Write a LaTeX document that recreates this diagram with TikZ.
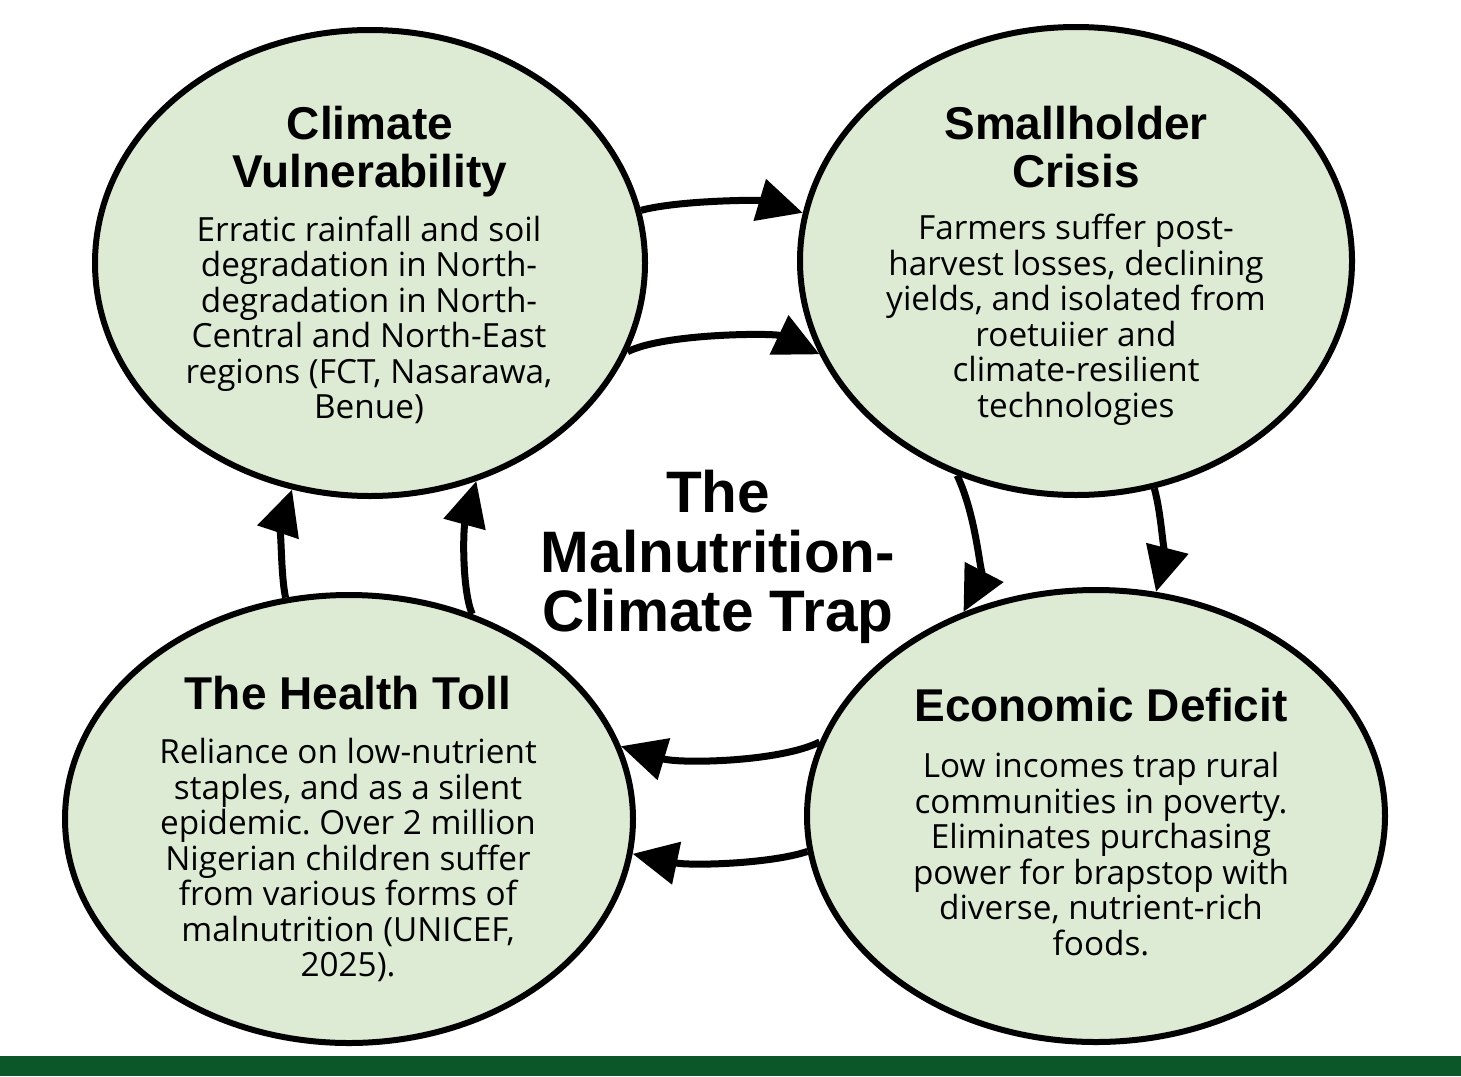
\documentclass[tikz,border=0pt]{standalone}
\usepackage{fontspec}
\setmainfont{Open Sans}
\newfontfamily\headfont{Liberation Sans}
\usetikzlibrary{arrows.meta,shapes.geometric}
\definecolor{bubblefill}{HTML}{DDEBD5}
\definecolor{bargreen}{HTML}{0B572A}
\frenchspacing
\begin{document}
\begin{tikzpicture}[x=1pt,y=-1pt,
  bubble/.style={ellipse, draw=black, line width=6pt, fill=bubblefill, inner sep=0pt},
  headtxt/.style={align=center, inner sep=0pt, font={\headfont\bfseries\fontsize{46}{48}\selectfont}},
  bodytxt/.style={align=center, inner sep=0pt, font={\fontsize{33.3}{35.5}\selectfont}},
  centertxt/.style={align=center, inner sep=0pt, font={\headfont\bfseries\fontsize{58.5}{59.5}\selectfont}},
  flow/.style={line width=7pt, -{Triangle[length=45pt,width=42pt]}}]
\useasboundingbox (0,0) rectangle (1461,1076);
\fill[white] (0,0) rectangle (1461,1076);
\fill[bargreen] (0,1056) rectangle (1461,1076);

\node[bubble, minimum width=550pt, minimum height=466pt] (cv) at (370,263) {};
\node[bubble, minimum width=552pt, minimum height=468pt] (sc) at (1076,261) {};
\node[bubble, minimum width=568pt, minimum height=448pt] (ht) at (349,819) {};
\node[bubble, minimum width=578pt, minimum height=452pt] (ed) at (1096,816) {};

\node[headtxt] (cvh) at (370,152) {Climate\\Vulnerability};
\node[bodytxt] (cvb) at (369,320) {Erratic rainfall and soil\\degradation in North-\\degradation in North-\\Central and North-East\\regions (FCT, Nasarawa,\\Benue)};

\node[headtxt] (sch) at (1076,147) {Smallholder\\Crisis};
\node[bodytxt] (scb) at (1076,320) {Farmers suffer post-\\harvest losses, declining\\yields, and isolated from\\roetuiier and\\climate-resilient\\technologies};

\node[headtxt] (hth) at (348,693) {The Health Toll};
\node[bodytxt] (htb) at (348,860) {Reliance on low-nutrient\\staples, and as a silent\\epidemic. Over 2 million\\Nigerian children suffer\\from various forms of\\malnutrition (UNICEF,\\2025).};

\node[headtxt] (edh) at (1101,705) {Economic Deficit};
\node[bodytxt] (edb) at (1101,854) {Low incomes trap rural\\communities in poverty.\\Eliminates purchasing\\power for brapstop with\\diverse, nutrient-rich\\foods.};

\node[centertxt] (trap) at (718,557) {The\\Malnutrition-\\Climate Trap};

% Climate -> Smallholder
\draw[flow] (cv.11) .. controls (680,200) and (760,200) .. (sc.170);
\draw[flow] (cv.-19) .. controls (665,333) and (775,333) .. (sc.200);
% Smallholder -> Economic
\draw[flow] (sc.-119) .. controls (978,520) and (980,580) .. (ed.123);
\draw[flow] (sc.-71) .. controls (1163,520) and (1163,565) .. (ed.75);
% Economic -> Health
\draw[flow] (ed.165) .. controls (780,762) and (680,764) .. (ht.15);
\draw[flow] (ed.187) .. controls (770,864) and (690,866) .. (ht.-7);
% Health -> Climate
\draw[flow] (ht.106) .. controls (280,570) and (282,520) .. (cv.-109);
\draw[flow] (ht.59) .. controls (462,590) and (463,530) .. (cv.-64);
\end{tikzpicture}
\end{document}
